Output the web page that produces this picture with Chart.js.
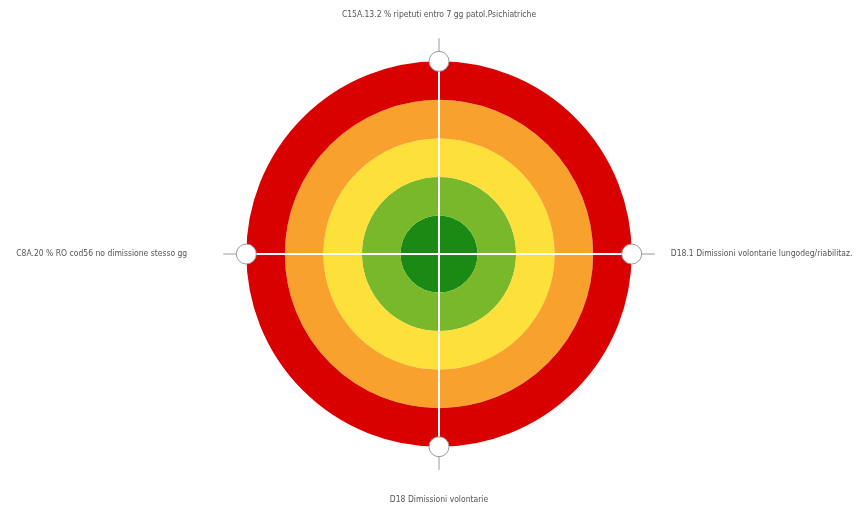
<!DOCTYPE html>
<html>
<head>
<meta charset="utf-8">
<script src="https://cdn.jsdelivr.net/npm/chart.js@4/dist/chart.umd.min.js"></script>
<style>
  html, body { margin: 0; padding: 0; background: #fff; }
  #wrap { width: 861px; height: 509px; }
</style>
</head>
<body>
<div id="wrap"><canvas id="radarChart"></canvas></div>
<script>
// indicators, clockwise from top
const indicators = [
    'C15A.13.2 % ripetuti entro 7 gg patol.Psichiatriche',
    'D18.1 Dimissioni volontarie lungodeg/riabilitaz.',
    'D18 Dimissioni volontarie',
    'C8A.20 % RO cod56 no dimissione stesso gg'
];
// position of each indicator (1 = centre band, 5 = outer band)
const scores = [5, 5, 5, 5];
// band colours from centre to edge
const bandColors = ['#1b8a14', '#79b82b', '#fee03a', '#f8a22d', '#d90000'];
const scaleMax = 5.6;

// gray stubs outside the coloured disc
const axisStubs = {
    id: 'axisStubs',
    beforeDatasetsDraw(chart) {
        const r = chart.scales.r;
        const ctx = chart.ctx;
        const inner = r.getDistanceFromCenterForValue(bandColors.length);
        ctx.save();
        ctx.strokeStyle = '#9a9a9a';
        ctx.lineWidth = 1;
        indicators.forEach((_, i) => {
            const a = r.getPointPosition(i, inner);
            const b = r.getPointPosition(i, r.drawingArea);
            ctx.beginPath();
            ctx.moveTo(a.x, a.y);
            ctx.lineTo(b.x, b.y);
            ctx.stroke();
        });
        ctx.restore();
    }
};

new Chart(document.getElementById('radarChart'), {
    type: 'radar',
    data: {
        labels: indicators,
        datasets: [{
            data: scores,
            showLine: false,
            fill: false,
            borderWidth: 0,
            pointRadius: 10,
            pointHoverRadius: 10,
            pointBackgroundColor: '#ffffff',
            pointBorderColor: '#9a9a9a',
            pointBorderWidth: 1
        }]
    },
    options: {
        responsive: true,
        maintainAspectRatio: false,
        animation: false,
        layout: { padding: { top: 7, bottom: -2, left: 8, right: 0 } },
        plugins: {
            legend: { display: false },
            tooltip: { enabled: false }
        },
        scales: {
            r: {
                min: 0,
                max: scaleMax,
                ticks: { display: false, stepSize: 0.5 },
                grid: {
                    circular: true,
                    color: (c) => {
                        const v = c.tick ? c.tick.value : 0;
                        if (Math.abs(v % 1 - 0.5) < 0.01 && v < bandColors.length) {
                            return bandColors[Math.floor(v)];
                        }
                        return 'rgba(0,0,0,0)';
                    },
                    lineWidth: (c) => c.scale.getDistanceFromCenterForValue(1) - c.scale.getDistanceFromCenterForValue(0)
                },
                angleLines: { color: '#ffffff', lineWidth: 2 },
                pointLabels: {
                    color: '#555555',
                    font: { family: "'Liberation Sans Narrow', 'DejaVu Sans Condensed', sans-serif", size: 8.5 },
                    padding: (c) => [18, 16, 25, 36][c.index]
                }
            }
        }
    },
    plugins: [axisStubs]
});
</script>
</body>
</html>
